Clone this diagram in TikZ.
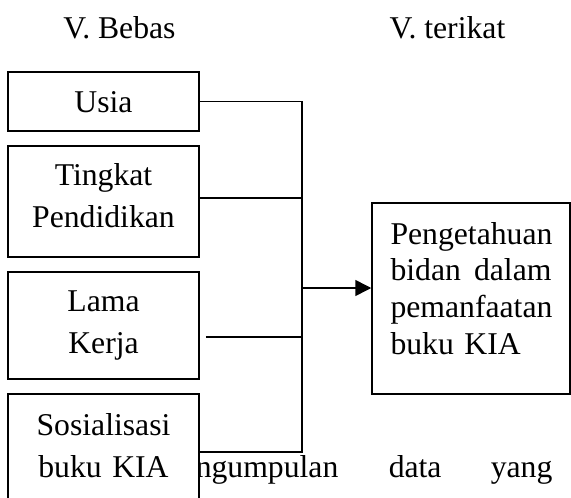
\documentclass[tikz,border=0pt]{standalone}
\usepackage{fontspec}
\setmainfont{Liberation Serif}
\usetikzlibrary{arrows.meta}

\tikzset{
  varbox/.style={draw,fill=white,inner xsep=0pt,inner ysep=0pt,
    text width=95.5pt,align=center,anchor=base},
  heading/.style={anchor=base,inner sep=0pt},
  bodytext/.style={anchor=base west,inner sep=0pt}
}

\begin{document}
\begin{tikzpicture}[x=.5pt,y=-.5pt,line width=.75pt,
  font=\fontsize{15.85}{21}\selectfont,
  >={Triangle[length=8pt,width=8pt]}]
 \useasboundingbox (0,0) rectangle (571,497);
 \clip (0,0) rectangle (571,497);
 % headings
 \node[heading] (bebas) at (119.5,39) {V. Bebas};
 \node[heading] (terikat) at (447.5,39) {V. terikat};
 % running text of the page, partly under the last box
 \node[bodytext] (kata1) at (195,477) {ngumpulan};
 \node[bodytext] (kata2) at (388,477) {data};
 \node[bodytext] (kata3) at (490,477) {yang};
 % independent variables
 \node[varbox,text height=20.5pt,text depth=9pt] (usia) at (103.5,113) {Usia};
 \node[varbox,text height=19.5pt,text depth=36pt] (tingkat) at (103.5,185) {Tingkat\\Pendidikan};
 \node[varbox,text height=19.5pt,text depth=34pt] (lama) at (103.5,311) {Lama\\Kerja};
 \node[varbox,text height=20.5pt,text depth=40pt] (sos) at (103.5,435) {Sosialisasi\\buku KIA};
 % dependent variable
 \node[varbox,text width=80.5pt,inner xsep=9.25pt,align=left,
   text height=20.5pt,text depth=75pt,font=\fontsize{15.85}{18.35}\selectfont]
   (pengetahuan) at (471,244) {Pengetahuan\\bidan\hfill dalam\\pemanfaatan\\buku KIA};
 % connectors
 \coordinate (bustop) at (302,101);
 \coordinate (busbottom) at (302,452);
 \draw (usia.east) -- (usia.east -| bustop) -- (busbottom) -- (busbottom -| sos.east);
 \draw ([yshift=1.75pt]tingkat.east) -- ([yshift=1.75pt]tingkat.east -| bustop);
 \draw ([xshift=3pt,yshift=-5.75pt]lama.east) -- ([yshift=-5.75pt]lama.east -| bustop);
 \draw[->] ([yshift=5.25pt]pengetahuan.west -| bustop) -- ([yshift=5.25pt]pengetahuan.west);
\end{tikzpicture}
\end{document}
